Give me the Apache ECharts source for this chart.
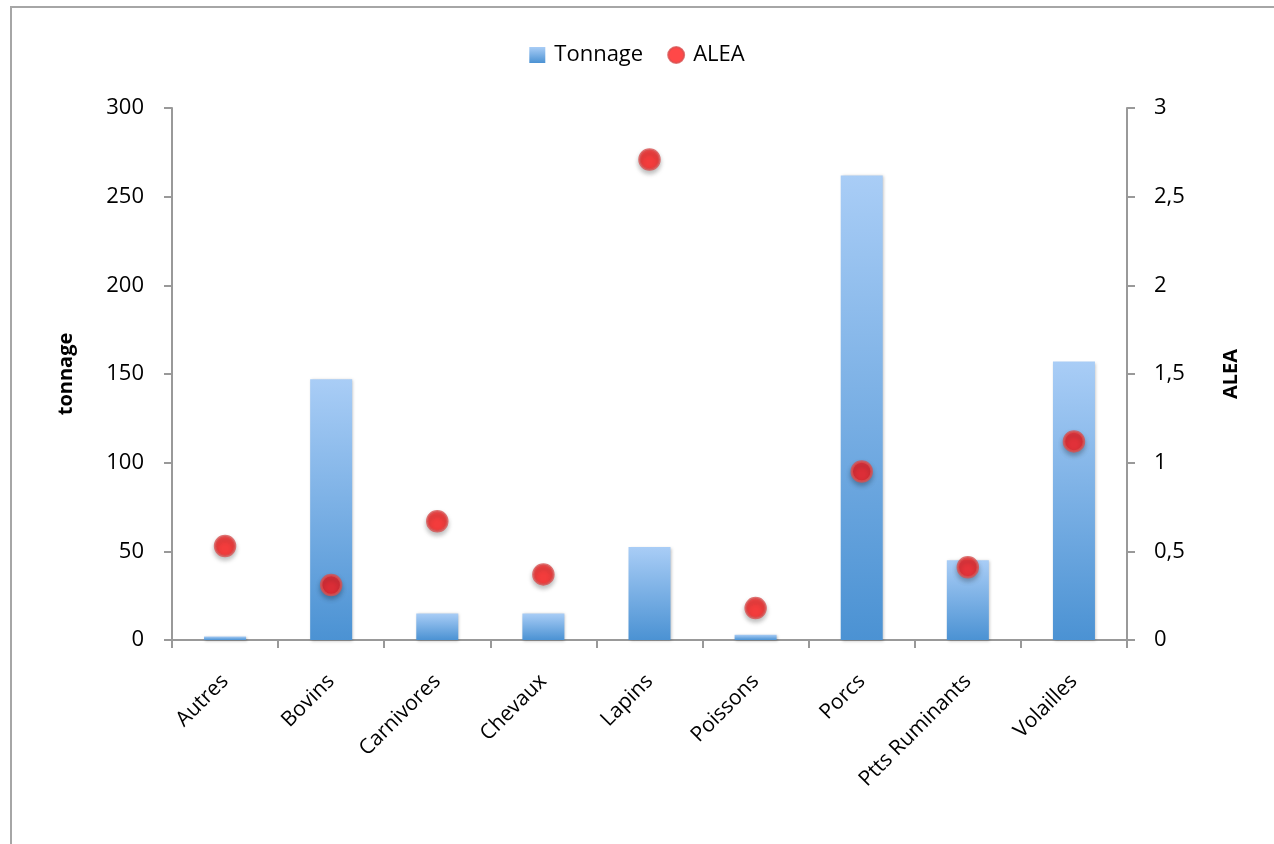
<!DOCTYPE html>
<html><head><meta charset="utf-8">
<script src="https://cdn.jsdelivr.net/npm/echarts@6/dist/echarts.min.js"></script>
<style>
html,body{margin:0;padding:0;background:#fff;}
#frame{position:absolute;left:10px;top:6px;width:1300px;height:836px;border-left:2px solid #a6a6a6;border-top:2px solid #a6a6a6;border-bottom:1px solid #e6e6e6;}
#c{position:absolute;left:0;top:0;width:1274px;height:844px;}
</style></head>
<body>
<div id="frame"></div>
<div id="c"></div>
<script>
const categories = ['Autres','Bovins','Carnivores','Chevaux','Lapins','Poissons','Porcs','Ptts Ruminants','Volailles'];
const tonnage = [2, 147, 15, 15, 52.5, 3, 262, 45, 157];
const alea = [0.53, 0.31, 0.67, 0.37, 2.71, 0.18, 0.95, 0.41, 1.12];
const leftTicks = [0, 50, 100, 150, 200, 250, 300];
const rightTicks = [0, 0.5, 1, 1.5, 2, 2.5, 3];

const font = 'Open Sans, Lato, sans-serif';
const chart = echarts.init(document.getElementById('c'));
const axisLine = {show:true, lineStyle:{color:'#999', width:2}};
chart.setOption({
  animation:false,
  legend:{
    top:39, left:'center', itemGap:24,
    textStyle:{fontFamily:font, fontSize:22, color:'#000', padding:[0,0,0,4]},
    itemWidth:16, itemHeight:16,
    data:[{name:'Tonnage', icon:'rect'},{name:'ALEA', icon:'circle'}]
  },
  grid:{left:172, right:147, top:108, bottom:204},
  xAxis:{
    type:'category', data:categories,
    axisLine:axisLine,
    axisTick:{show:true, length:8, lineStyle:{color:'#999', width:2}},
    axisLabel:{rotate:45, fontFamily:font, fontSize:21, color:'#000', margin:38, interval:0}
  },
  yAxis:[{
    type:'value', min:0, max:300, interval:50,
    name:'tonnage', nameLocation:'middle', nameGap:96, nameRotate:90,
    nameTextStyle:{fontFamily:font, fontSize:20, fontWeight:'bold', color:'#000'},
    axisLine:axisLine,
    axisTick:{show:true, length:8, lineStyle:{color:'#999', width:2}},
    axisLabel:{fontFamily:font, fontSize:22, color:'#000', margin:28,
      formatter:v=>leftTicks.includes(v)?String(v):''},
    splitLine:{show:false}
  },{
    type:'value', min:0, max:3, interval:0.5, position:'right',
    name:'ALEA', nameLocation:'middle', nameGap:94, nameRotate:90,
    nameTextStyle:{fontFamily:font, fontSize:20, fontWeight:'bold', color:'#000'},
    axisLine:axisLine,
    axisTick:{show:true, length:8, lineStyle:{color:'#999', width:2}},
    axisLabel:{fontFamily:font, fontSize:22, color:'#000', margin:27,
      formatter:v=>rightTicks.includes(v)?String(v).replace('.',','):''},
    splitLine:{show:false}
  }],
  series:[{
    name:'Tonnage', type:'bar', data:tonnage, barWidth:42, yAxisIndex:0,
    itemStyle:{
      color:new echarts.graphic.LinearGradient(0,0,0,1,[
        {offset:0,color:'#a9cdf6'},{offset:1,color:'#4b92d3'}]),
      shadowColor:'rgba(0,0,0,0.25)', shadowBlur:3, shadowOffsetX:1, shadowOffsetY:1
    }
  },{
    name:'ALEA', type:'scatter', data:alea, yAxisIndex:1, symbol:'circle', symbolSize:20,
    itemStyle:{color:'#ff1a1a', borderColor:'#d85050', borderWidth:2.5,
      shadowColor:'rgba(0,0,0,0.3)', shadowBlur:5, shadowOffsetX:0, shadowOffsetY:3}
  }]
});
</script>
</body></html>
